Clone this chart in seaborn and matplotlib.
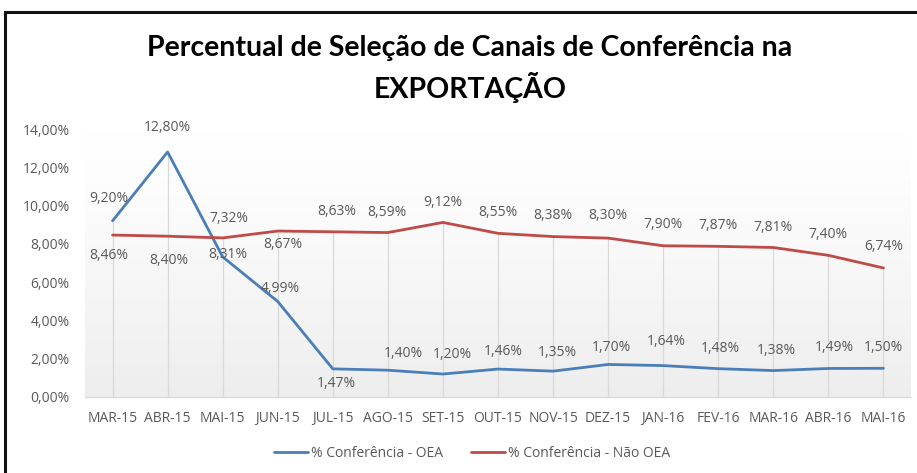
import matplotlib
matplotlib.use("Agg")
import matplotlib.pyplot as plt
import numpy as np
import pandas as pd
import seaborn as sns
from matplotlib.patches import Rectangle
from matplotlib.lines import Line2D

# ---- data ----
months = ["MAR-15", "ABR-15", "MAI-15", "JUN-15", "JUL-15", "AGO-15", "SET-15", "OUT-15",
          "NOV-15", "DEZ-15", "JAN-16", "FEV-16", "MAR-16", "ABR-16", "MAI-16"]
oea = [9.20, 12.80, 7.32, 4.99, 1.47, 1.40, 1.20, 1.46, 1.35, 1.70, 1.64, 1.48, 1.38, 1.49, 1.50]
nao_oea = [8.46, 8.40, 8.31, 8.67, 8.63, 8.59, 9.12, 8.55, 8.38, 8.30, 7.90, 7.87, 7.81, 7.40, 6.74]
series_names = ["% Conferência - OEA", "% Conferência - Não OEA"]
y_ticks = [0, 2, 4, 6, 8, 10, 12, 14]
title = "Percentual de Seleção de Canais de Conferência na\nEXPORTAÇÃO"

# ---- label placement (pixel offsets, x right / y down) ----
oea_off = [(-4, -22), (0, -24), (6, -38), (3, -13), (4, 15), (15, -17), (9, -20), (5, -18),
           (4, -19), (3, -17), (3, -24), (2, -20), (3, -20), (6, -21), (0, -21)]
nao_off = [(-4, 20), (1, 24), (5, 17), (5, 13), (4, -20), (-1, -20), (0, -20), (0, -21),
           (0, -21), (0, -23), (0, -21), (0, -21), (0, -20), (0, -21), (0, -21)]

blue = "#4A7EBB"
red = "#BE4B48"
gray_txt = "#595959"

sns.set_theme(style="white")
plt.rcParams["font.family"] = ["Open Sans", "DejaVu Sans"]

W, H = 917, 473
fig = plt.figure(figsize=(W / 100, H / 100), dpi=100)
fig.patch.set_facecolor("white")
ax = fig.add_axes([85 / W, 1 - 397 / H, 826 / W, 268 / H])

pos = list(range(len(months)))
df = pd.DataFrame({
    "pos": pos * 2,
    "val": oea + nao_oea,
    "serie": [series_names[0]] * len(pos) + [series_names[1]] * len(pos),
})

# gradient background
grad = np.linspace(0, 1, 256).reshape(-1, 1) ** 1.3
top = np.array([1.0, 1.0, 1.0])
bot = np.array([0.93, 0.93, 0.93])
img = top + (bot - top) * grad[..., None]
img = img.reshape(256, 1, 3)
ax.imshow(img, extent=[-0.5, len(months) - 0.5, 0, 14], aspect="auto", zorder=0,
          origin="upper", interpolation="bilinear")

# drop lines
ax.vlines(pos, 0, [max(a, b) for a, b in zip(oea, nao_oea)], color="#D9D9D9", lw=0.9, zorder=1)

sns.lineplot(data=df, x="pos", y="val", hue="serie", palette=[blue, red], ax=ax,
             linewidth=2.0, legend=False, zorder=3)

for i, v in enumerate(oea):
    dx, dy = oea_off[i]
    ax.annotate(f"{v:.2f}%".replace(".", ","), (i, v), xytext=(dx, -dy),
                textcoords="offset pixels", ha="center", va="center",
                fontsize=10, color=gray_txt, zorder=4)
for i, v in enumerate(nao_oea):
    dx, dy = nao_off[i]
    ax.annotate(f"{v:.2f}%".replace(".", ","), (i, v), xytext=(dx, -dy),
                textcoords="offset pixels", ha="center", va="center",
                fontsize=10, color=gray_txt, zorder=4)

ax.set_xlim(-0.5, len(months) - 0.5)
ax.set_ylim(0, 14)
ax.set_xticks(pos)
ax.set_xticklabels(months, fontsize=10, color=gray_txt)
ax.set_yticks(y_ticks)
ax.set_yticklabels([f"{t:.2f}%".replace(".", ",") for t in y_ticks], fontsize=10, color=gray_txt)
ax.tick_params(axis="both", length=0)
ax.tick_params(axis="y", pad=11)
ax.tick_params(axis="x", pad=10)
ax.set_xlabel("")
ax.set_ylabel("")
ax.grid(False)
for s in ["top", "right", "left"]:
    ax.spines[s].set_visible(False)
ax.spines["bottom"].set_color("#D9D9D9")
ax.spines["bottom"].set_linewidth(1.0)
ax.set_facecolor("none")

fig.text(470 / W, 1 - 69 / H, title, ha="center", va="center", fontsize=20.5,
         fontweight="bold", color="black", family=["Lato", "DejaVu Sans"], linespacing=1.4)

handles = [Line2D([], [], color=blue, lw=2.0), Line2D([], [], color=red, lw=2.0)]
fig.legend(handles, series_names, loc="center", bbox_to_anchor=(472 / W, 1 - 453 / H),
           ncol=2, frameon=False, fontsize=10, labelcolor=gray_txt, handlelength=2.45,
           handletextpad=0.25, columnspacing=2.0)

# outer frame (cut off at right / bottom)
fig.add_artist(Rectangle((5 / W, -0.2), 2.0, (1 - 12 / H) + 0.2, transform=fig.transFigure,
                         fill=False, edgecolor="#111111", lw=2.2))

fig.savefig("out.png", dpi=100)
